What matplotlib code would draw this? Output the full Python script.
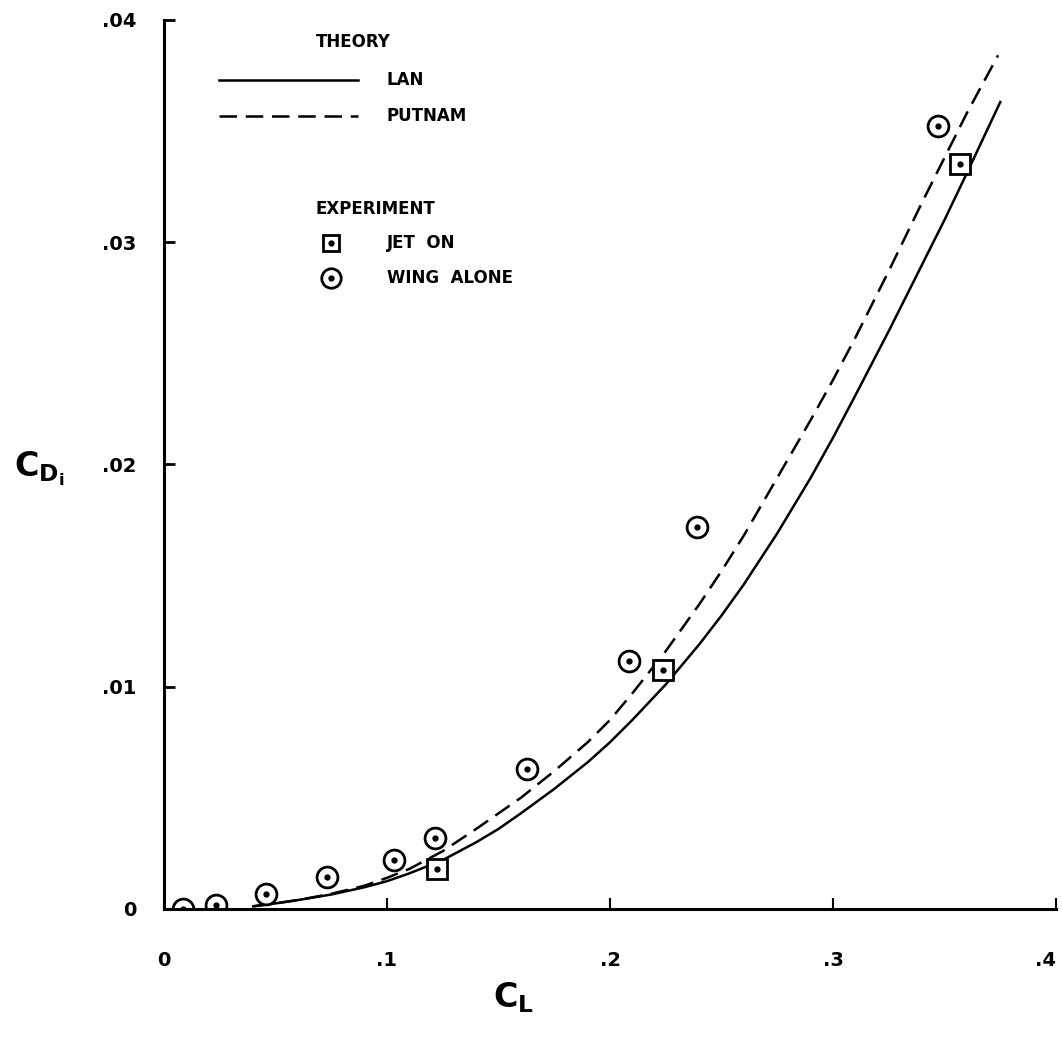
import matplotlib
matplotlib.use("Agg")
from matplotlib import pyplot as plt

plt.rcParams['font.family'] = ['DejaVu Sans']
plt.rcParams['mathtext.fontset'] = 'dejavusans'

# theory curves (CL, CDi)
lan_cl = [0.04, 0.05, 0.06, 0.075, 0.09, 0.10, 0.11, 0.125, 0.14, 0.15, 0.16, 0.175,
          0.19, 0.20, 0.21, 0.225, 0.24, 0.25, 0.26, 0.275, 0.29, 0.30, 0.31, 0.325,
          0.34, 0.35, 0.36, 0.375]
lan_cd = [0.00012, 0.00025, 0.0004, 0.00065, 0.00098, 0.00125, 0.0016, 0.0022, 0.0030,
          0.0036, 0.0043, 0.0054, 0.0066, 0.0075, 0.0085, 0.0101, 0.0119, 0.0132, 0.0146,
          0.0169, 0.0194, 0.0212, 0.0231, 0.0260, 0.0290, 0.0310, 0.0331, 0.0363]

putnam_cl = [0.04, 0.05, 0.06, 0.075, 0.09, 0.10, 0.11, 0.125, 0.14, 0.15, 0.16, 0.175,
             0.19, 0.20, 0.21, 0.225, 0.24, 0.25, 0.26, 0.275, 0.29, 0.30, 0.31, 0.325,
             0.34, 0.35, 0.36, 0.374]
putnam_cd = [0.00012, 0.00025, 0.0004, 0.00068, 0.00105, 0.0014, 0.0018, 0.0026, 0.0036,
             0.0043, 0.0050, 0.0062, 0.0075, 0.0085, 0.0097, 0.0116, 0.0137, 0.0152, 0.0168,
             0.0194, 0.0220, 0.0238, 0.0257, 0.0287, 0.0318, 0.0338, 0.0358, 0.0384]

# experiment
jet_cl = [0.1224, 0.2238, 0.357]
jet_cd = [0.0018, 0.01077, 0.0335]

wing_cl = [0.0085, 0.0233, 0.0457, 0.0731, 0.1031, 0.1215, 0.1628, 0.2085, 0.239, 0.3471]
wing_cd = [0.0, 0.0002, 0.00068, 0.00144, 0.0022, 0.0032, 0.0063, 0.01117, 0.0172, 0.0352]

xticks = [0, 0.1, 0.2, 0.3, 0.4]
xlabels = ['0', '.1', '.2', '.3', '.4']
yticks = [0, 0.01, 0.02, 0.03, 0.04]
ylabels = ['0', '.01', '.02', '.03', '.04']

fig = plt.figure(figsize=(10.62, 10.40), dpi=100)
ax = fig.add_axes([0.1544, 0.126, 0.8400, 0.855])

lw = 1.8
dash = (7, 3.5)
ax.plot(lan_cl, lan_cd, color='k', lw=lw)
ax.plot(putnam_cl, putnam_cd, color='k', lw=lw, dashes=dash)

ax.plot(jet_cl, jet_cd, ls='none', marker='s', ms=14, mfc='white', mec='k', mew=2)
ax.plot(wing_cl, wing_cd, ls='none', marker='o', ms=15, mfc='white', mec='k', mew=2)
ax.plot(jet_cl + wing_cl, jet_cd + wing_cd, ls='none', marker='o', ms=3.5, color='k')

ax.set_xlim(0, 0.4)
ax.set_ylim(0, 0.04)
ax.spines['top'].set_visible(False)
ax.spines['right'].set_visible(False)
ax.spines['left'].set_linewidth(2.2)
ax.spines['bottom'].set_linewidth(2.2)

ax.set_xticks(xticks)
ax.set_xticklabels(xlabels, fontsize=14, fontweight='bold')
ax.set_yticks(yticks)
ax.set_yticklabels(ylabels, fontsize=14, fontweight='bold')
ax.tick_params(axis='x', direction='in', length=8, width=1.5, pad=30)
ax.tick_params(axis='y', direction='in', length=8, width=2, pad=20)
ax.get_xticklabels()[-1].set_horizontalalignment('right')

# axis titles
ax.text(-0.168, 0.495, r'$\mathbf{C}_{\mathbf{D}_{\mathbf{i}}}$', transform=ax.transAxes,
        fontsize=24, ha='left', va='center')
ax.text(0.369, -0.10, r'$\mathbf{C}_{\mathbf{L}}$', transform=ax.transAxes,
        fontsize=24, ha='left', va='center')

# key
tk = dict(transform=ax.transAxes, fontsize=12, fontweight='bold', va='center')
ax.text(0.170, 0.975, 'THEORY', **tk)
ax.plot([0.0617, 0.2175], [0.9325, 0.9325], transform=ax.transAxes, color='k', lw=lw)
ax.text(0.250, 0.9325, 'LAN', **tk)
ax.plot([0.0617, 0.2175], [0.892, 0.892], transform=ax.transAxes, color='k', lw=lw,
        dashes=dash)
ax.text(0.250, 0.892, 'PUTNAM', **tk)
ax.text(0.170, 0.787, 'EXPERIMENT', **tk)
ax.plot([0.187], [0.749], transform=ax.transAxes, marker='s', ms=12, mfc='white', mec='k', mew=2)
ax.plot([0.187], [0.749], transform=ax.transAxes, marker='o', ms=3.5, color='k')
ax.text(0.250, 0.749, 'JET  ON', **tk)
ax.plot([0.187], [0.710], transform=ax.transAxes, marker='o', ms=14, mfc='white', mec='k', mew=2)
ax.plot([0.187], [0.710], transform=ax.transAxes, marker='o', ms=3.5, color='k')
ax.text(0.250, 0.710, 'WING  ALONE', **tk)

fig.savefig('out.png', dpi=100)
